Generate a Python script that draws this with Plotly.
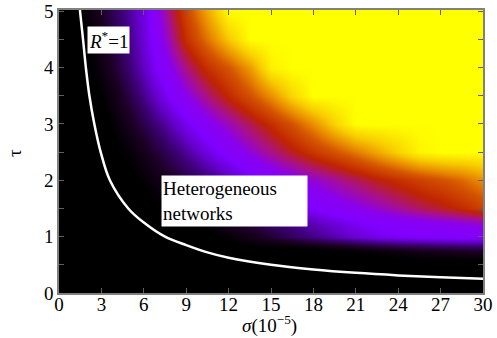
import plotly.graph_objects as go

# sigma grid (10^-5) and tau grid
sigma = [0, 1.5, 3, 4.5, 6, 7.5, 9, 10.5, 12, 13.5, 15, 16.5, 18, 19.5, 21, 22.5, 24, 25.5, 27, 28.5, 30]
tau = [0, 0.5, 0.75, 1.0, 1.25, 1.5, 2.0, 2.5, 3.0, 3.5, 4.0, 4.5, 5.02]

# colour level (0 = black ... 1 = yellow), one row per tau
row_0_00 = [0] * 21
row_0_50 = [0] * 21
row_0_75 = [0, 0, 0, 0, 0, 0, 0, 0, 0, 0, 0, 0, 0.02, 0.04, 0.06, 0.08, 0.10, 0.12, 0.13, 0.14, 0.15]
row_1_00 = [0, 0, 0, 0, 0, 0, 0, 0, 0.07, 0.12, 0.17, 0.215, 0.26, 0.30, 0.34, 0.37, 0.39, 0.40, 0.41, 0.415, 0.42]
row_1_25 = [0, 0, 0, 0, 0, 0, 0.05, 0.094, 0.14, 0.18, 0.225, 0.27, 0.31, 0.35, 0.39, 0.41, 0.43, 0.45, 0.47, 0.49, 0.51]
row_1_50 = [0, 0, 0, 0, 0, 0.066, 0.114, 0.161, 0.209, 0.257, 0.305, 0.352, 0.40, 0.44, 0.475, 0.51, 0.55, 0.59, 0.625, 0.665, 0.71]
row_2_00 = [0, 0, 0, 0, 0.069, 0.128, 0.186, 0.244, 0.303, 0.361, 0.415, 0.459, 0.503, 0.547, 0.591, 0.635, 0.673, 0.708, 0.742, 0.777, 0.829]
row_2_50 = [0, 0, 0, 0.05, 0.127, 0.204, 0.282, 0.359, 0.431, 0.496, 0.562, 0.628, 0.688, 0.744, 0.80, 0.86, 0.92, 0.98, 1, 1, 1]
row_3_00 = [0, 0, 0, 0.109, 0.198, 0.287, 0.376, 0.453, 0.525, 0.597, 0.67, 0.745, 0.826, 0.923, 1, 1, 1, 1, 1, 1, 1]
row_3_50 = [0, 0, 0.05, 0.159, 0.269, 0.378, 0.475, 0.569, 0.661, 0.741, 0.827, 0.927, 1, 1, 1, 1, 1, 1, 1, 1, 1]
row_4_00 = [0, 0, 0.096, 0.21, 0.324, 0.442, 0.567, 0.675, 0.75, 0.843, 0.974, 1, 1, 1, 1, 1, 1, 1, 1, 1, 1]
row_4_50 = [0, 0, 0.124, 0.236, 0.348, 0.50, 0.674, 0.792, 0.908, 1, 1, 1, 1, 1, 1, 1, 1, 1, 1, 1, 1]
row_5_02 = [0, 0.05, 0.153, 0.256, 0.359, 0.54, 0.72, 0.863, 1, 1, 1, 1, 1, 1, 1, 1, 1, 1, 1, 1, 1]

level = [row_0_00, row_0_50, row_0_75, row_1_00, row_1_25, row_1_50, row_2_00,
         row_2_50, row_3_00, row_3_50, row_4_00, row_4_50, row_5_02]

# R* = 1 threshold curve
sigma_curve = [1.48, 1.7, 1.9, 2.15, 2.5, 2.95, 3.6, 4.9, 6.0, 7.5, 9.0, 10.5, 12, 15, 18, 21, 24, 27, 30]
tau_curve = [5.02, 4.5, 4.0, 3.5, 3.0, 2.5, 2.0, 1.5, 1.25, 1.0, 0.85, 0.72, 0.625, 0.5, 0.417, 0.357, 0.3125, 0.278, 0.252]

x_ticks = [0, 3, 6, 9, 12, 15, 18, 21, 24, 27, 30]
y_ticks = [0, 1, 2, 3, 4, 5]

cscale = [
    [0.0, "#000000"], [0.05, "#000000"], [0.15, "#1c0024"], [0.25, "#3e0078"],
    [0.33, "#6600cc"], [0.40, "#8000ff"], [0.48, "#8a00ee"], [0.56, "#a8108c"],
    [0.65, "#c02400"], [0.75, "#d45400"], [0.82, "#e88a00"], [0.91, "#f8cc00"],
    [1.0, "#ffff00"],
]

FAMILY = "Liberation Serif"

fig = go.Figure()
fig.add_trace(go.Heatmap(x=sigma, y=tau, z=level, zmin=0, zmax=1, colorscale=cscale,
                         zsmooth="best", showscale=False, hoverinfo="skip"))
fig.add_trace(go.Scatter(x=sigma_curve, y=tau_curve, mode="lines",
                         line=dict(color="white", width=2.5, shape="spline"),
                         showlegend=False, hoverinfo="skip"))

font = dict(family=FAMILY, size=19, color="black")

fig.add_annotation(x=3.49, y=4.48, xref="x", yref="y", text="<i>R</i><sup>*</sup>=1",
                   showarrow=False, bgcolor="white", font=font, borderpad=1)
fig.add_annotation(x=7.2, y=2.09, xref="x", yref="y", xanchor="left", yanchor="top",
                   text="Heterogeneous<br>networks", align="left", showarrow=False,
                   bgcolor="white", font=font, width=143, height=48, borderpad=1)
# axis titles
fig.add_annotation(x=0.496, y=-0.113, xref="paper", yref="paper", xanchor="center", yanchor="middle",
                   text="<i>σ</i>(10<sup>−5</sup>)", showarrow=False, font=font)
fig.add_annotation(x=-0.1035, y=0.495, xref="paper", yref="paper", xanchor="center", yanchor="middle",
                   text="τ", textangle=-90, showarrow=False, font=font)

axis_common = dict(showgrid=False, zeroline=False, showline=True, linecolor="#808080",
                   linewidth=1.5, mirror="ticks", ticks="inside", ticklen=5,
                   tickcolor="#606060", tickwidth=1.2, tickfont=font, automargin=False)

fig.update_xaxes(range=[0, 30], tickvals=x_ticks, ticktext=[str(v) for v in x_ticks],
                 ticklabelstandoff=-7, **axis_common)
fig.update_yaxes(range=[0, 5.02], tickvals=y_ticks, ticktext=[str(v) for v in y_ticks],
                 minor=dict(dtick=0.5, ticks="inside", ticklen=5, tickcolor="#606060", tickwidth=1.2),
                 **axis_common)

fig.update_layout(width=497, height=338, margin=dict(l=59, r=14, t=10, b=45, autoexpand=False),
                  font=dict(family=FAMILY),
                  paper_bgcolor="white", plot_bgcolor="black")

fig.write_html("out.html", config={"displayModeBar": False},
               post_script="document.body.style.margin='0';document.body.style.padding='0';")
